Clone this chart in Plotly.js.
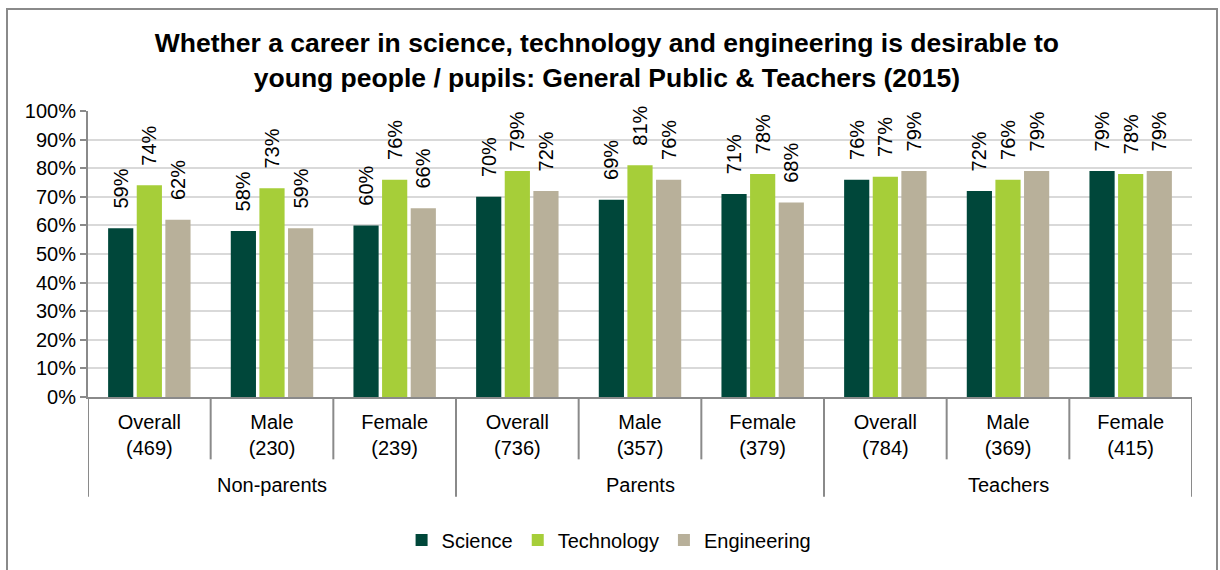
<!DOCTYPE html>
<html>
<head>
<meta charset="utf-8">
<script src="https://cdn.plot.ly/plotly-3.0.1.min.js"></script>
<style>
  body { margin: 0; background: #fff; }
  #chart { position: absolute; left: 0; top: 0; width: 1220px; height: 570px; }
  #frame { position: absolute; left: 6px; top: 8px; width: 1208px; height: 600px;
           border: 2px solid #8a8a8a; pointer-events: none; }
</style>
</head>
<body>
<div id="chart"></div>
<div id="frame"></div>
<script>
var groups = ['Non-parents', 'Parents', 'Teachers'];
var subgroups = ['Overall<br>(469)', 'Male<br>(230)', 'Female<br>(239)',
                 'Overall<br>(736)', 'Male<br>(357)', 'Female<br>(379)',
                 'Overall<br>(784)', 'Male<br>(369)', 'Female<br>(415)'];
var science     = [59, 58, 60, 70, 69, 71, 76, 72, 79];
var technology  = [74, 73, 76, 79, 81, 78, 77, 76, 78];
var engineering = [62, 59, 66, 72, 76, 68, 79, 79, 79];

var font = 'Liberation Sans, Arial, sans-serif';

function series(name, vals, color) {
    return {
        type: 'bar',
        name: name,
        x: subgroups,
        y: vals,
        marker: { color: color },
        // y already carries the axis suffix '%'
        texttemplate: '\u00a0\u00a0\u00a0%{y}',
        textposition: 'outside',
        textangle: -90,
        constraintext: 'none',
        cliponaxis: false,
        textfont: { family: font, size: 20, color: '#000' },
        hoverinfo: 'x+y'
    };
}

var data = [
    series('Science', science, '#00473a'),
    series('Technology', technology, '#a6ce39'),
    series('Engineering', engineering, '#b8b09a')
];

// dividers under the axis: short ones between subgroups, long ones between groups
var shapes = [];
for (var i = 0; i <= subgroups.length; i++) {
    var isGroup = (i % 3 === 0);
    shapes.push({
        type: 'line', xref: 'x', yref: 'paper',
        x0: i - 0.5, x1: i - 0.5,
        y0: 0, y1: isGroup ? -0.349 : -0.218,
        line: { color: '#8a8a8a', width: 2 }
    });
}

var annotations = groups.map(function (g, k) {
    return {
        text: g, xref: 'x', yref: 'paper',
        x: k * 3 + 1, y: -0.307, yanchor: 'middle',
        showarrow: false,
        font: { family: font, size: 20, color: '#000' }
    };
});

var layout = {
    width: 1220,
    height: 570,
    margin: { l: 88, r: 28, t: 111, b: 172 },
    paper_bgcolor: '#fff',
    plot_bgcolor: '#fff',
    font: { family: font, size: 20, color: '#000' },
    title: {
        text: '<b>Whether a career in science, technology and engineering is desirable to<br>young people / pupils: General Public &amp; Teachers (2015)</b>',
        font: { family: font, size: 26.5, color: '#000' },
        xref: 'container', x: 0.4975,
        yref: 'container', y: 0.908, yanchor: 'middle'
    },
    barmode: 'group',
    bargap: 0.3,
    bargroupgap: 0.12,
    xaxis: {
        type: 'category',
        showline: true, linecolor: '#8a8a8a', linewidth: 2,
        ticks: '',
        ticklabelstandoff: 6,
        showgrid: false,
        tickfont: { family: font, size: 20, color: '#000' },
        range: [-0.5, 8.5]
    },
    yaxis: {
        range: [0, 100],
        dtick: 10,
        ticksuffix: '%',
        showline: true, linecolor: '#8a8a8a', linewidth: 2,
        ticks: 'outside', ticklen: 6, tickcolor: '#8a8a8a', tickwidth: 2,
        gridcolor: '#d9d9d9', gridwidth: 2,
        zeroline: false,
        tickfont: { family: font, size: 20, color: '#000' }
    },
    showlegend: true,
    legend: {
        orientation: 'h',
        x: 0.472, xanchor: 'center',
        y: -0.495, yanchor: 'middle',
        font: { family: font, size: 20, color: '#000' }
    },
    shapes: shapes,
    annotations: annotations
};

Plotly.newPlot('chart', data, layout, { displayModeBar: false });
</script>
</body>
</html>
